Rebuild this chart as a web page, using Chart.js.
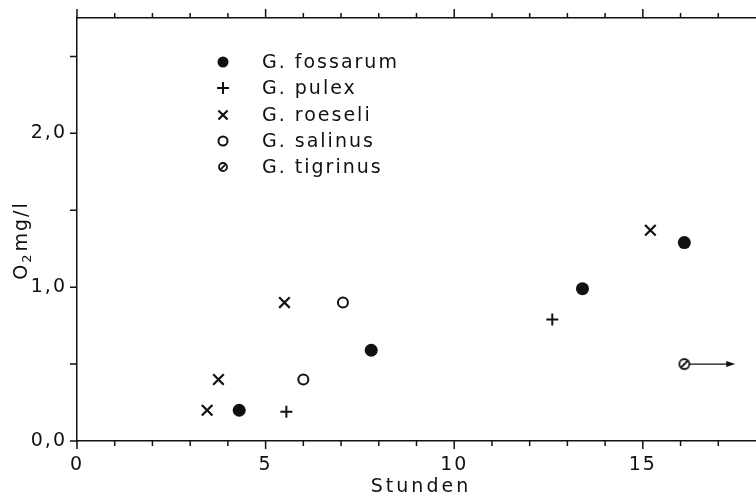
<!DOCTYPE html>
<html>
<head>
<meta charset="utf-8">
<script src="https://cdn.jsdelivr.net/npm/chart.js@4/dist/chart.umd.min.js"></script>
<style>
  html, body { margin: 0; padding: 0; background: #fff; }
  #wrap { width: 756px; height: 498px; }
</style>
</head>
<body>
<div id="wrap"><canvas id="myChart" width="756" height="498"></canvas></div>
<script>
'use strict';

// ---- data ----
const fossarumX = [4.3, 7.8, 13.4, 16.1];
const fossarumY = [0.2, 0.59, 0.99, 1.29];
const pulexX = [5.55, 12.6];
const pulexY = [0.19, 0.79];
const roeseliX = [3.45, 3.75, 5.5, 15.2];
const roeseliY = [0.2, 0.4, 0.9, 1.37];
const salinusX = [6.0, 7.05];
const salinusY = [0.4, 0.9];
const tigrinusX = [16.1];
const tigrinusY = [0.5];
const tigrinusArrowTo = 17.45;

const xTicks = [0, 1, 2, 3, 4, 5, 6, 7, 8, 9, 10, 11, 12, 13, 14, 15, 16, 17];
const xLabels = [0, 5, 10, 15];
const yTicks = [0, 0.5, 1, 1.5, 2, 2.5];
const yLabels = [0, 1, 2];

const ink = '#111';
const fontFam = '"DejaVu Sans", sans-serif';

function pts(xs, ys) {
  let out = [];
  for (let i = 0; i < xs.length; i++) out.push({ x: xs[i], y: ys[i] });
  return out;
}

function slashCircle(r) {
  let c = document.createElement('canvas');
  c.width = c.height = 2 * r + 4;
  let g = c.getContext('2d');
  let m = r + 2;
  g.strokeStyle = ink;
  g.lineWidth = 1.8;
  g.beginPath();
  g.arc(m, m, r, 0, Math.PI * 2);
  g.stroke();
  g.beginPath();
  g.moveTo(m - r * 0.7, m + r * 0.7);
  g.lineTo(m + r * 0.7, m - r * 0.7);
  g.stroke();
  return c;
}
const tigrinusMark = slashCircle(5);
const tigrinusLegendMark = slashCircle(4);

const datasets = [
  { label: 'G. fossarum', data: pts(fossarumX, fossarumY), pointStyle: 'circle', pointRadius: 6.5,
    backgroundColor: ink, borderColor: ink, borderWidth: 0, legendRadius: 5.5 },
  { label: 'G. pulex', data: pts(pulexX, pulexY), pointStyle: 'cross', pointRadius: 6,
    backgroundColor: ink, borderColor: ink, borderWidth: 2, legendRadius: 6 },
  { label: 'G. roeseli', data: pts(roeseliX, roeseliY), pointStyle: 'crossRot', pointRadius: 7.5,
    backgroundColor: ink, borderColor: ink, borderWidth: 2.2, legendRadius: 6.5 },
  { label: 'G. salinus', data: pts(salinusX, salinusY), pointStyle: 'circle', pointRadius: 5,
    backgroundColor: '#fff', borderColor: ink, borderWidth: 2, legendRadius: 4.5 },
  { label: 'G. tigrinus', data: pts(tigrinusX, tigrinusY), pointStyle: tigrinusMark, pointRadius: 5,
    backgroundColor: '#fff', borderColor: ink, borderWidth: 1.6, legendRadius: 4,
    legendStyle: tigrinusLegendMark }
];

function tickMarks(scale, values, majors, dir, minorLen, majorLen) {
  const ctx = scale.ctx;
  ctx.save();
  ctx.strokeStyle = ink;
  ctx.lineWidth = 1.5;
  ctx.beginPath();
  for (let v of values) {
    let len = majors.includes(v) ? majorLen : minorLen;
    let p = scale.getPixelForValue(v);
    if (dir === 'down') { ctx.moveTo(p, scale.top); ctx.lineTo(p, scale.top + len); }
    if (dir === 'up') { ctx.moveTo(p, scale.bottom); ctx.lineTo(p, scale.bottom - len); }
    if (dir === 'left') { ctx.moveTo(scale.right, p); ctx.lineTo(scale.right - len, p); }
  }
  ctx.stroke();
  ctx.restore();
}

function noSidePad(s) {
  s.paddingLeft = 0;
  s.paddingRight = 0;
  s.paddingTop = 0;
  s.paddingBottom = 0;
}

const decorPlugin = {
  id: 'decor',
  beforeDraw(chart) {
    // spaced-out tick labels like the original lettering
    chart.ctx.letterSpacing = '2px';
  },
  beforeDatasetsDraw(chart) {
    chart.ctx.letterSpacing = '0px';
  },
  afterDraw(chart) {
    const ctx = chart.ctx;
    const s = chart.scales;
    tickMarks(s.x, xTicks, xLabels, 'down', 5, 8);
    tickMarks(s.xTop, xTicks, xLabels, 'up', 5, 9);
    tickMarks(s.y, yTicks, yLabels, 'left', 7, 7);

    // arrow from the tigrinus point
    let y = s.y.getPixelForValue(tigrinusY[0]);
    let x0 = s.x.getPixelForValue(tigrinusX[0]) + 5;
    let x1 = s.x.getPixelForValue(tigrinusArrowTo);
    ctx.save();
    ctx.strokeStyle = ink;
    ctx.fillStyle = ink;
    ctx.lineWidth = 1.2;
    ctx.beginPath();
    ctx.moveTo(x0, y);
    ctx.lineTo(x1 - 6, y);
    ctx.stroke();
    ctx.beginPath();
    ctx.moveTo(x1, y);
    ctx.lineTo(x1 - 9, y - 3);
    ctx.lineTo(x1 - 9, y + 3);
    ctx.closePath();
    ctx.fill();

    // legend inside the plot
    const rowY = [62, 88, 115, 141, 167];
    ctx.font = '19px ' + fontFam;
    ctx.letterSpacing = '2px';
    ctx.textBaseline = 'middle';
    ctx.textAlign = 'left';
    chart.data.datasets.forEach((ds, i) => {
      ctx.fillStyle = ds.backgroundColor;
      ctx.strokeStyle = ds.borderColor;
      ctx.lineWidth = ds.borderWidth;
      Chart.helpers.drawPoint(ctx, { pointStyle: ds.legendStyle || ds.pointStyle, radius: ds.legendRadius,
        borderWidth: ds.borderWidth, rotation: 0 }, 223, rowY[i]);
      ctx.fillStyle = ink;
      ctx.fillText(ds.label, 262, rowY[i] + 1);
    });

    // axis titles
    ctx.font = '19px ' + fontFam;
    ctx.letterSpacing = '3px';
    ctx.textAlign = 'center';
    ctx.fillText('Stunden', 421, 487);

    ctx.translate(22, 241);
    ctx.rotate(-Math.PI / 2);
    ctx.textAlign = 'left';
    ctx.font = '19px ' + fontFam;
    ctx.letterSpacing = '2px';
    let w0 = ctx.measureText('O').width;
    ctx.font = '13px ' + fontFam;
    let w1 = ctx.measureText('2').width;
    ctx.font = '19px ' + fontFam;
    let w2 = ctx.measureText('mg/l').width;
    let start = -(w0 + w1 + w2) / 2;
    ctx.fillText('O', start, 0);
    ctx.font = '13px ' + fontFam;
    ctx.fillText('2', start + w0, 6);
    ctx.font = '19px ' + fontFam;
    ctx.fillText('mg/l', start + w0 + w1 + 1, 0);
    ctx.restore();
  }
};

new Chart(document.getElementById('myChart'), {
  type: 'scatter',
  data: { datasets: datasets },
  options: {
    responsive: false,
    animation: false,
    devicePixelRatio: 1,
    layout: { autoPadding: false, padding: { left: 0, right: 0, top: 0, bottom: 0 } },
    plugins: { legend: { display: false }, tooltip: { enabled: false } },
    scales: {
      x: {
        type: 'linear', position: 'bottom', min: 0, max: 18,
        afterFit(s) { s.height = 57; noSidePad(s); },
        afterBuildTicks(s) { s.ticks = xLabels.map(v => ({ value: v })); },
        grid: { display: false, drawTicks: false },
        border: { display: true, color: ink, width: 1.5 },
        ticks: { color: ink, padding: 13, font: { family: fontFam, size: 19 } }
      },
      xTop: {
        type: 'linear', position: 'top', min: 0, max: 18,
        afterFit(s) { s.height = 18; noSidePad(s); },
        grid: { display: false, drawTicks: false },
        border: { display: true, color: ink, width: 1.5 },
        ticks: { display: false }
      },
      y: {
        type: 'linear', position: 'left', min: 0, max: 2.75,
        afterFit(s) { s.width = 77; noSidePad(s); },
        afterBuildTicks(s) { s.ticks = yLabels.map(v => ({ value: v })); },
        grid: { display: false, drawTicks: false },
        border: { display: true, color: ink, width: 1.5 },
        ticks: { color: ink, padding: 10, font: { family: fontFam, size: 19 },
          callback: v => v.toFixed(1).replace('.', ',') }
      }
    }
  },
  plugins: [decorPlugin]
});
</script>
</body>
</html>
